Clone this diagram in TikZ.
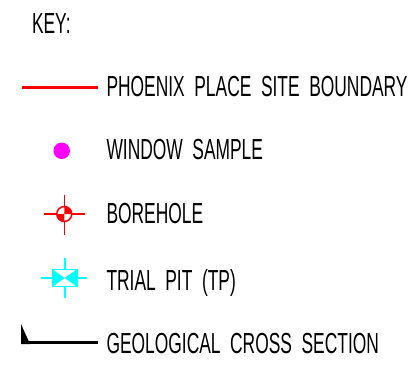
\documentclass[tikz,border=0pt]{standalone}
\usepackage{fontspec}
\setmainfont{Liberation Sans}
\usepackage{graphicx}
\newcommand{\wsp}{\hspace{0.55em}}
\newcommand{\keytxt}[1]{\scalebox{0.6}[1]{\fontsize{29}{32}\selectfont #1}}
\definecolor{kred}{RGB}{255,0,0}
\definecolor{kmag}{RGB}{255,0,255}
\definecolor{kcyan}{RGB}{0,255,255}
\begin{document}
\begin{tikzpicture}[x=1pt,y=-1pt,
  lbl/.style={anchor=base west,inner sep=0pt,outer sep=0pt,text=black},
  crossln/.style={line width=1.6pt}]
\useasboundingbox[fill=white] (0,0) rectangle (414,371);
% title
\node[lbl] (key) at (32,33.5) {\keytxt{KEY:}};
% site boundary
\coordinate (sbA) at (22,88);
\coordinate (sbB) at (98,88);
\draw[kred,line width=3pt] (sbA) -- (sbB);
\node[lbl] (tsb) at (106.5,97) {\keytxt{PHOENIX\wsp PLACE\wsp SITE\wsp BOUNDARY}};
% window sample
\node[circle,fill=kmag,minimum size=16.5pt,inner sep=0pt] (ws) at (61.7,150.8) {};
\node[lbl] (tws) at (106.5,160) {\keytxt{WINDOW\wsp SAMPLE}};
% borehole
\coordinate (bh) at (64.3,214);
\draw[kred,crossln] (44,214) -- (85,214);
\draw[kred,crossln] (64.3,194.5) -- (64.3,235);
\fill[white] (bh) circle (7.5);
\fill[kred] (bh) -- ++(-7.5,0) arc (180:90:7.5) -- cycle;
\fill[kred] (bh) -- ++(7.5,0) arc (0:-90:7.5) -- cycle;
\draw[kred,line width=1.5pt] (bh) circle (7.5);
\node[lbl] (tbh) at (106.5,223.5) {\keytxt{BOREHOLE}};
% trial pit
\coordinate (tp) at (64.7,278);
\draw[kcyan,crossln] (41,278) -- (87,278);
\draw[kcyan,crossln] (64.7,258) -- (64.7,298);
\fill[white] (52.5,269.3) rectangle (77,286.7);
\fill[kcyan] (52.5,269.3) -- (tp) -- (52.5,286.7) -- cycle;
\fill[kcyan] (77,269.3) -- (tp) -- (77,286.7) -- cycle;
\draw[kcyan,line width=1.5pt] (52.5,269.3) rectangle (77,286.7);
\node[lbl] (ttp) at (106.5,290) {\keytxt{TRIAL\wsp PIT\wsp (TP)}};
% geological cross section
\coordinate (gcA) at (21,342.5);
\coordinate (gcB) at (98,342.5);
\fill[black] (21,324) -- (21,344) -- (30,344) -- cycle;
\draw[black,line width=2.6pt] (gcA) -- (gcB);
\node[lbl] (tgc) at (106.5,353.5) {\keytxt{GEOLOGICAL\wsp CROSS\wsp SECTION}};
\end{tikzpicture}
\end{document}
